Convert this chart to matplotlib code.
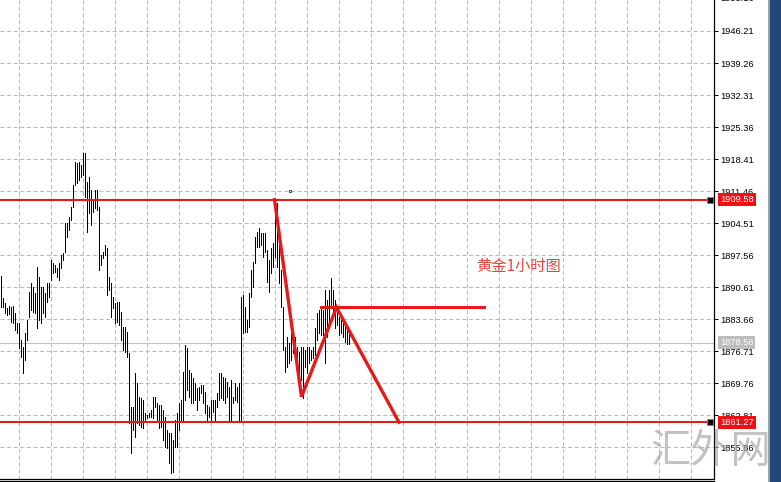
import numpy as np
import matplotlib.pyplot as plt
from matplotlib.patches import Rectangle
from matplotlib.lines import Line2D

# hourly gold bars (high / low), oldest first
highs = [1893.0, 1888.2, 1887.2, 1886.1, 1886.5, 1886.3, 1886.5, 1885.0, 1882.8, 1882.8,
         1879.1, 1877.6, 1880.6, 1883.5, 1889.6, 1891.5, 1890.6, 1889.3, 1895.0, 1892.8,
         1890.6, 1890.6, 1889.3, 1891.5, 1891.5, 1896.5, 1895.8, 1895.4, 1894.8, 1895.8,
         1897.6, 1898.0, 1904.5, 1904.5, 1905.8, 1908.0, 1912.8, 1917.8, 1917.6, 1917.8,
         1917.1, 1919.7, 1919.7, 1913.4, 1914.5, 1911.7, 1909.5, 1911.7, 1911.7, 1908.0,
         1897.6, 1898.2, 1899.7, 1899.1, 1892.8, 1891.5, 1888.5, 1887.2, 1887.4, 1887.4,
         1885.2, 1882.0, 1882.0, 1880.9, 1876.3, 1864.6, 1864.6, 1872.0, 1869.8, 1866.8,
         1866.5, 1866.1, 1863.3, 1862.9, 1863.3, 1863.9, 1866.8, 1866.8, 1865.4, 1865.0,
         1865.0, 1863.9, 1862.4, 1859.6, 1858.9, 1858.9, 1857.4, 1861.8, 1863.3, 1865.4,
         1866.1, 1872.2, 1878.0, 1877.4, 1872.6, 1872.0, 1870.9, 1869.8, 1868.7, 1868.9,
         1869.4, 1869.4, 1867.8, 1865.0, 1864.6, 1866.1, 1866.1, 1866.1, 1867.6, 1872.0,
         1872.0, 1871.1, 1870.9, 1870.0, 1868.9, 1870.5, 1866.8, 1869.8, 1868.9, 1869.8,
         1888.5, 1888.9, 1886.3, 1883.5, 1889.3, 1894.3, 1896.1, 1901.5, 1902.6, 1903.4,
         1902.4, 1902.4, 1902.4, 1898.7, 1896.5, 1899.1, 1900.2, 1909.5, 1908.9, 1903.0,
         1894.3, 1886.3, 1877.6, 1879.8, 1878.5, 1880.6, 1881.3, 1879.8, 1877.6, 1876.5,
         1877.6, 1877.6, 1877.0, 1877.6, 1877.6, 1877.0, 1877.6, 1881.7, 1885.0, 1885.6,
         1886.3, 1885.6, 1890.0, 1887.8, 1890.0, 1892.6, 1890.0, 1887.8, 1886.1, 1884.1,
         1883.5, 1883.0, 1882.8, 1882.4, 1880.6]
lows = [1886.3, 1886.3, 1885.0, 1884.6, 1884.8, 1883.0, 1882.8, 1881.3, 1880.6, 1877.4,
        1875.4, 1872.0, 1874.8, 1879.1, 1884.1, 1885.6, 1885.2, 1885.0, 1881.7, 1883.5,
        1882.8, 1885.0, 1884.1, 1887.4, 1888.5, 1892.2, 1893.7, 1893.9, 1892.8, 1892.2,
        1894.8, 1896.5, 1898.2, 1901.5, 1903.0, 1905.2, 1908.0, 1912.8, 1913.2, 1913.9,
        1914.5, 1914.9, 1910.2, 1902.6, 1906.7, 1904.1, 1906.9, 1907.8, 1907.4, 1894.3,
        1895.4, 1896.9, 1897.6, 1888.9, 1890.0, 1884.1, 1886.1, 1882.8, 1883.0, 1882.4,
        1879.1, 1877.0, 1876.5, 1875.4, 1861.1, 1854.6, 1859.6, 1858.1, 1861.1, 1860.7,
        1860.2, 1860.0, 1861.3, 1862.2, 1862.4, 1862.4, 1862.2, 1864.6, 1861.8, 1860.0,
        1860.2, 1857.4, 1855.9, 1855.7, 1852.4, 1850.3, 1850.5, 1855.9, 1855.9, 1859.6,
        1861.8, 1861.8, 1866.1, 1868.3, 1866.8, 1865.4, 1865.4, 1866.1, 1863.9, 1866.1,
        1867.6, 1865.4, 1863.3, 1861.8, 1862.4, 1861.8, 1863.5, 1861.8, 1864.6, 1866.1,
        1866.5, 1866.1, 1865.4, 1866.8, 1861.8, 1861.8, 1865.4, 1866.1, 1865.7, 1861.8,
        1861.8, 1880.6, 1880.9, 1880.9, 1882.0, 1888.5, 1890.6, 1895.8, 1899.3, 1899.3,
        1899.7, 1897.1, 1898.2, 1891.7, 1889.6, 1893.7, 1895.0, 1897.1, 1895.0, 1891.5,
        1886.3, 1877.0, 1872.2, 1873.3, 1874.1, 1874.8, 1876.3, 1877.0, 1875.4, 1872.0,
        1870.5, 1866.5, 1873.3, 1872.0, 1874.1, 1874.8, 1875.2, 1875.9, 1879.1, 1880.6,
        1880.2, 1880.2, 1874.1, 1879.8, 1882.8, 1886.3, 1885.0, 1881.7, 1882.4, 1880.2,
        1880.6, 1879.8, 1878.7, 1878.3, 1878.3]

price_ticks = [1855.86, 1862.81, 1869.76, 1876.71, 1883.66, 1890.61, 1897.56,
               1904.51, 1911.46, 1918.41, 1925.36, 1932.31, 1939.26, 1946.21]
top_tick = 1953.16

resistance = 1909.58
support = 1861.27
bid = 1878.56

# hand-drawn swing lines (bar index, price)
zig_x = [137, 150.5, 168, 199.25]
zig_p = [1909.58, 1866.8, 1886.2, support]
neck_x = [160, 241.5]
neck_p = [1886.2, 1886.2]

red = '#e31b1b'
num_font = 'Liberation Sans'

fig = plt.figure(figsize=(7.81, 4.82), dpi=100)
ax = fig.add_axes([0, 3 / 482, 714 / 781, 479 / 482])
ax.set_xlim(-0.25, 356.75)
ax.set_ylim(1848.95, 1952.94)

# grid
ax.set_xticks(np.arange(9.15, 357, 16))
ax.set_xticklabels([])
ax.set_yticks(price_ticks)
ax.set_yticklabels([f'{p:.2f}' for p in price_ticks], fontsize=6.7, family=num_font)
ax.yaxis.tick_right()
ax.tick_params(axis='x', length=0)
ax.tick_params(axis='y', direction='out', length=3, width=0.7, pad=1.5, colors='black')
ax.grid(True, color='#b8b8b8', lw=0.72, ls=(0, (4, 2.6)), zorder=0)
ax.set_axisbelow(True)

for s in ['top', 'left']:
    ax.spines[s].set_visible(False)
ax.spines['right'].set_linewidth(0.9)
ax.spines['bottom'].set_linewidth(0.9)

# price bars, one pixel wide
x = np.arange(len(highs))
ax.vlines(x, lows, highs, colors='black', lw=0.5, antialiased=False, zorder=3)

# current bid line
ax.axhline(bid, color='#c4c4c4', lw=0.8, zorder=1)

# levels and swing lines
ax.axhline(resistance, color=red, lw=1.5, zorder=4)
ax.axhline(support, color=red, lw=1.5, zorder=4)
ax.plot(zig_x, zig_p, color=red, lw=2.4, solid_joinstyle='miter', zorder=5)
ax.plot(neck_x, neck_p, color=red, lw=2.2, zorder=5)
ax.plot([144.5], [1911.5], 'o', ms=1.8, mfc='white', mec='black', mew=0.5, zorder=5)

ax.text(259, 1895.0, '黄金1小时图', color='#e8433f', fontsize=11,
        family=['Noto Sans CJK SC', 'DejaVu Sans'], ha='center', va='center')

# price labels on the scale
yt = ax.get_yaxis_transform()
for level, bg in [(resistance, '#ee1111'), (support, '#ee1111'), (bid, '#bdbdbd')]:
    ax.text(1.0085, level, f'{level:.2f}', transform=yt, fontsize=6.7, family=num_font,
            color='white', va='center', ha='left', clip_on=False, zorder=10,
            bbox=dict(boxstyle='square,pad=0.2', fc=bg, ec='none'))
for level in [resistance, support]:
    ax.plot([0.9945], [level], 's', transform=yt, ms=3.8, mfc='black', mec='#808080',
            mew=0.6, clip_on=False, zorder=10)
ax.text(1.0085, top_tick, f'{top_tick:.2f}', transform=yt, fontsize=6.7, family=num_font,
        va='center', ha='left', clip_on=False)

# frame line under the chart and the blue edge on the right
fig.add_artist(Line2D([0, 714 / 781], [0.6 / 482, 0.6 / 482], color='black', lw=0.9))
fig.add_artist(Rectangle((768 / 781, 0), 1.5 / 781, 1, color='#9aa3ad', lw=0))
fig.add_artist(Rectangle((769.5 / 781, 0), 11.5 / 781, 1, color='#22467a', lw=0))

fig.text(711 / 781, 31 / 482, '汇外网', color='#a8a8a8', alpha=0.7, fontsize=29,
         family=['Noto Sans CJK SC', 'DejaVu Sans'], fontweight='light',
         ha='center', va='center', zorder=20)

plt.savefig('out.png', dpi=100)
